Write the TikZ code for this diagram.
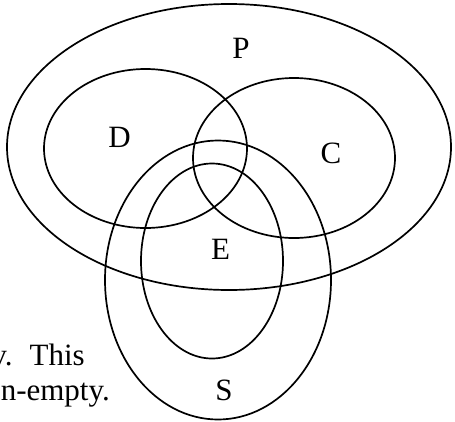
\documentclass[tikz,border=0pt]{standalone}
\usepackage{fontspec}
\setmainfont{Liberation Serif}
\begin{document}
\begin{tikzpicture}[x=1pt,y=-1pt,
  ring/.style={draw=black, line width=1.7pt},
  lbl/.style={font=\fontsize{31}{37}\selectfont, inner sep=0pt}]
\useasboundingbox (0,0) rectangle (455,421);
\clip (0,0) rectangle (455,421);
% sets
\draw[ring] (229,147) ellipse [x radius=222pt, y radius=143pt];
\draw[ring] (145.5,148.5) ellipse [x radius=101.5pt, y radius=79.5pt];
\draw[ring] (294,158) ellipse [x radius=101pt, y radius=80pt];
\draw[ring] (218,280) ellipse [x radius=113pt, y radius=139.5pt];
\draw[ring] (212,261) ellipse [x radius=71pt, y radius=97.5pt];
% labels
\node[lbl] (P) at (241,48) {P};
\node[lbl] (D) at (119.5,137) {D};
\node[lbl] (C) at (331,153) {C};
\node[lbl] (E) at (220.5,249) {E};
\node[lbl] (S) at (224,390) {S};
% clipped text
\node[lbl, anchor=base east] (t1) at (85,365) {v.\hspace{0.55em}This};
\node[lbl, anchor=base east] (t2) at (110,400) {n-empty.};
\end{tikzpicture}
\end{document}
